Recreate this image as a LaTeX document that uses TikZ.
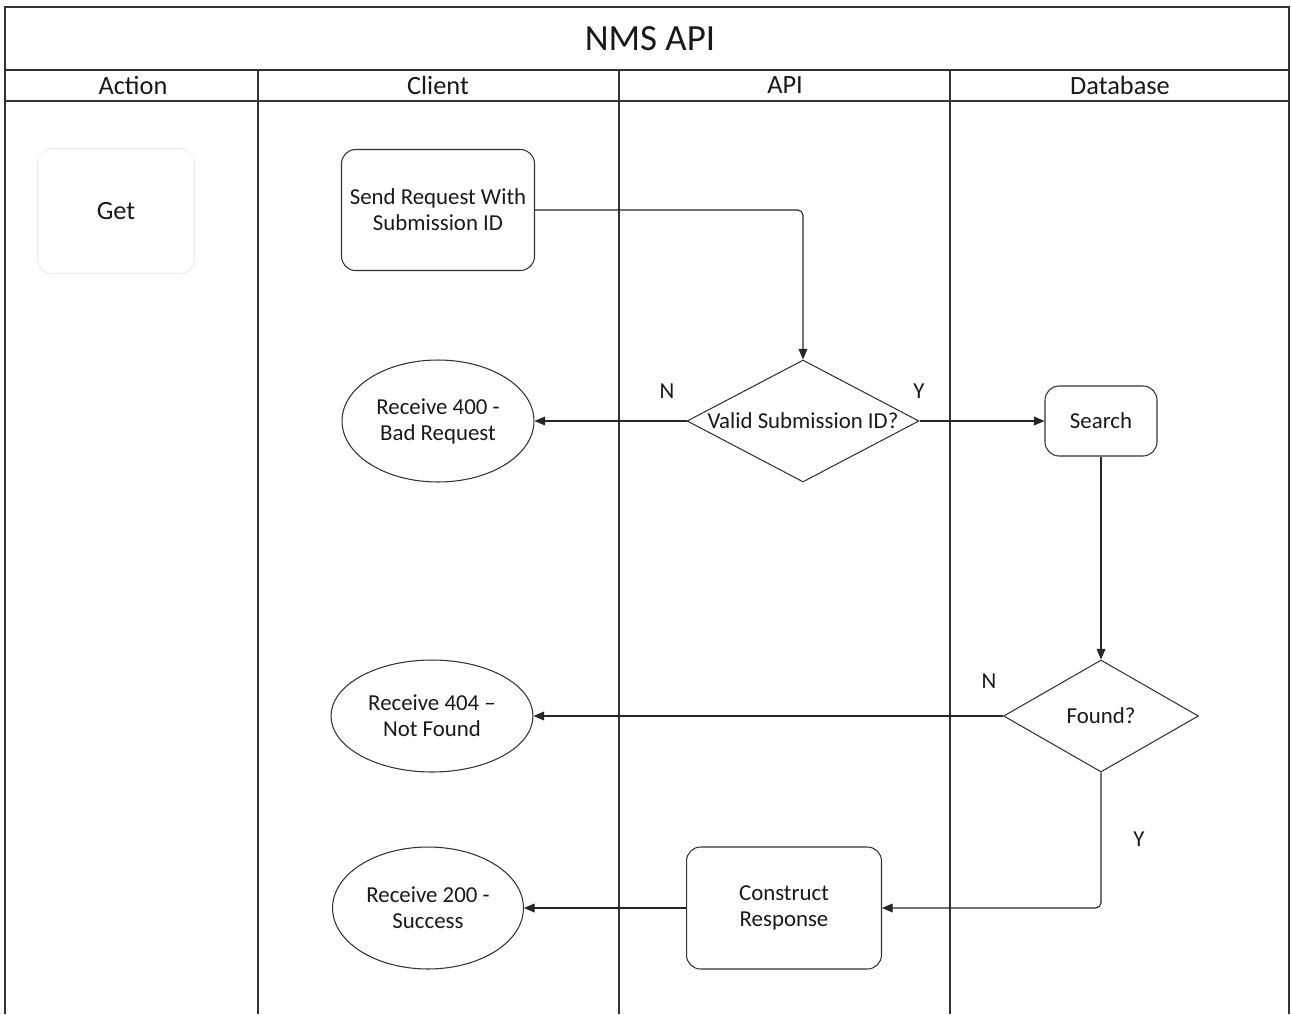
\documentclass[tikz,border=0pt]{standalone}
\usepackage{fontspec}
\setmainfont{Carlito}
\usetikzlibrary{shapes.geometric,arrows.meta}

\begin{document}
\begin{tikzpicture}[x=0.02cm,y=-0.02cm,
    every node/.style={font=\fontsize{13}{14.8}\selectfont, align=center, text=black!90},
    lane/.style={draw=black!80, line width=0.6pt},
    frame/.style={draw=black!80, line width=1.1pt},
    head/.style={font=\fontsize{15}{18}\selectfont},
    stepbox/.style={draw=black!80, line width=0.6pt, rectangle, rounded corners=8pt},
    reply/.style={draw=black!80, line width=0.6pt, ellipse},
    decide/.style={draw=black!80, line width=0.6pt, diamond, inner sep=0pt},
    arrow/.style={draw=black!85, line width=0.6pt, -{Triangle[length=6pt,width=5pt]}}]
    \useasboundingbox (0,0) rectangle (1291,1014);

    % Swimlane frame
    \draw[frame] (5,1014) -- (5,7) -- (1289,7) -- (1289,1014);
    \draw[frame] (5,70) -- (1289,70);
    \draw[frame] (5,101) -- (1289,101);
    \draw[frame] (258,70) -- (258,101);
    \draw[frame] (619,70) -- (619,101);
    \draw[frame] (950,70) -- (950,101);
    \draw[lane] (258,101) -- (258,1014);
    \draw[lane] (619,101) -- (619,1014);
    \draw[lane] (950,101) -- (950,1014);

    \node (title) at (650,39) [font=\fontsize{21}{24}\selectfont] {NMS API};
    \node (action) at (133,85) [head] {Action};
    \node (client) at (438,85) [head] {Client};
    \node (api) at (785,85) [head] {API};
    \node (database) at (1120,85) [head] {Database};

    % Action lane
    \node (get) at (116,211) [draw=black!8, rounded corners=8pt, minimum width=3.14cm, minimum height=2.5cm, font=\fontsize{15}{18}\selectfont] {Get};

    % Steps
    \node (send) at (438,210) [stepbox, minimum width=3.86cm, minimum height=2.42cm] {Send Request With\\Submission ID};
    \node (valid) at (803,421) [decide, minimum width=4.64cm, minimum height=2.44cm, label={center:Valid Submission ID?}] {};
    \node (bad) at (438,421) [reply, minimum width=3.84cm, minimum height=2.44cm] {Receive 400 -\\Bad Request};
    \node (search) at (1101,421) [stepbox, minimum width=2.24cm, minimum height=1.4cm] {Search};
    \node (found) at (1101,716) [decide, minimum width=3.9cm, minimum height=2.24cm, label={center:Found?}] {};
    \node (notfound) at (432,716) [reply, minimum width=4.04cm, minimum height=2.24cm] {Receive 404 --\\Not Found};
    \node (construct) at (784,908) [stepbox, minimum width=3.9cm, minimum height=2.44cm] {Construct\\Response};
    \node (success) at (428,908) [reply, minimum width=3.82cm, minimum height=2.44cm] {Receive 200 -\\Success};

    % Branch labels
    \node (validN) at (667,391) {N};
    \node (validY) at (919,391) {Y};
    \node (foundN) at (989,681) {N};
    \node (foundY) at (1139,839) {Y};

    % Connectors
    \draw[arrow, rounded corners=3pt] (send.east) -| (valid.north);
    \draw[arrow] (valid.west) -- (bad.east);
    \draw[arrow] (valid.east) -- (search.west);
    \draw[arrow] (search.south) -- (found.north);
    \draw[arrow] (found.west) -- (notfound.east);
    \draw[arrow, rounded corners=3pt] (found.south) |- (construct.east);
    \draw[arrow] (construct.west) -- (success.east);

\end{tikzpicture}
\end{document}
